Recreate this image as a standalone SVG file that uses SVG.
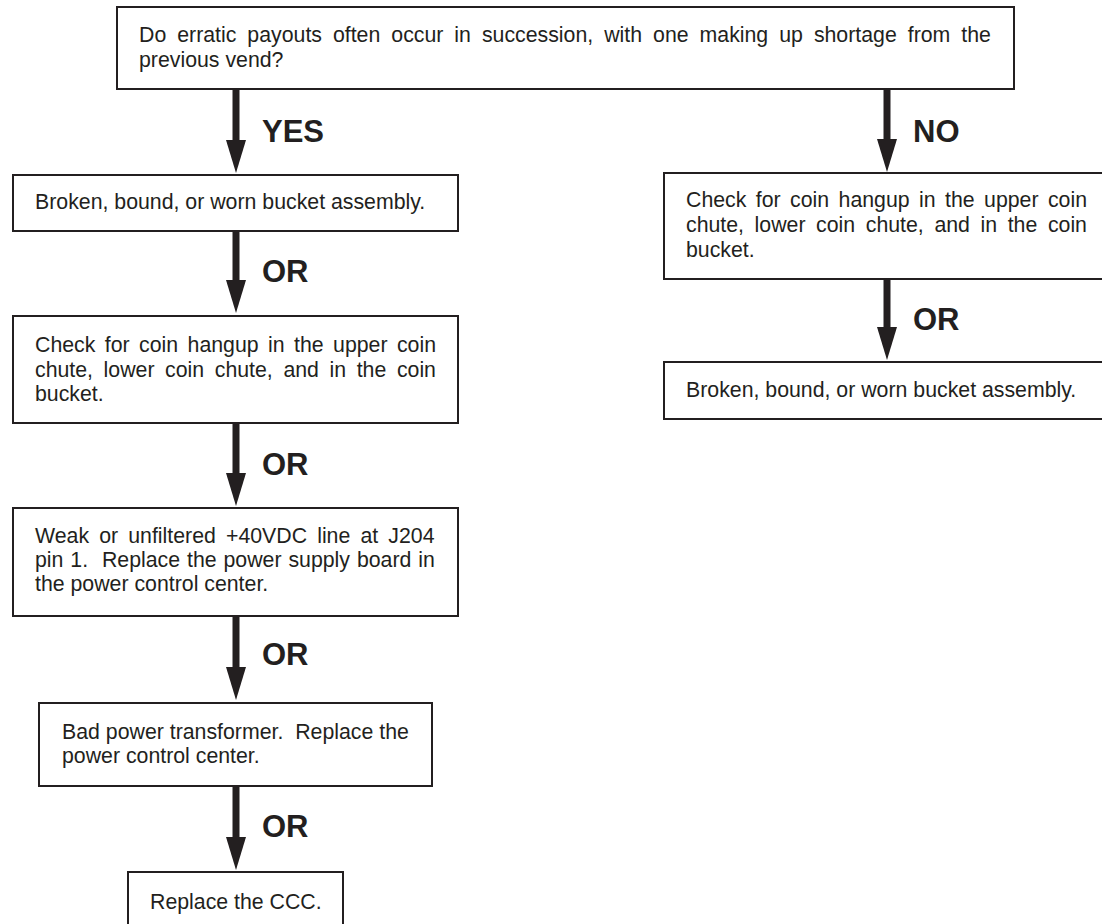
<svg xmlns="http://www.w3.org/2000/svg" width="1102" height="924" viewBox="0 0 1102 924">
<style>
.box{fill:#fff;stroke:#231f20;stroke-width:2}
.t{font-family:"Liberation Sans",Arial,sans-serif;font-size:21.3px;fill:#231f20}
.lbl{font-family:"Liberation Sans",Arial,sans-serif;font-size:31px;font-weight:bold;fill:#231f20}
.arr{stroke:#231f20;stroke-width:7;fill:none;marker-end:url(#head)}
</style>
<defs>
<marker id="head" viewBox="0 0 33 20" refX="0" refY="10" markerWidth="33" markerHeight="20" markerUnits="userSpaceOnUse" orient="auto">
<path d="M0,0 L33,10 L0,20 Z" fill="#231f20"/>
</marker>
</defs>
<rect width="1102" height="924" fill="#fff"/>
<g id="connectors">
<line class="arr" x1="236" y1="89" x2="236" y2="140"/>
<line class="arr" x1="887" y1="89" x2="887" y2="139"/>
<line class="arr" x1="236" y1="231" x2="236" y2="280"/>
<line class="arr" x1="236" y1="423" x2="236" y2="473"/>
<line class="arr" x1="236" y1="616" x2="236" y2="667"/>
<line class="arr" x1="236" y1="786" x2="236" y2="837"/>
<line class="arr" x1="887" y1="279" x2="887" y2="327"/>
<text class="lbl" x="262" y="142">YES</text>
<text class="lbl" x="913" y="142">NO</text>
<text class="lbl" x="262" y="282">OR</text>
<text class="lbl" x="262" y="475">OR</text>
<text class="lbl" x="262" y="665">OR</text>
<text class="lbl" x="262" y="837">OR</text>
<text class="lbl" x="913" y="330">OR</text>
</g>
<g id="q">
<rect class="box" x="117" y="7" width="897" height="82"/>
<text class="t" x="139" y="42" style="word-spacing:5.07px">Do erratic payouts often occur in succession, with one making up shortage from the</text>
<text class="t" x="139" y="67">previous vend?</text>
</g>
<g id="yes1">
<rect class="box" x="13" y="175" width="445" height="56"/>
<text class="t" x="35" y="209">Broken, bound, or worn bucket assembly.</text>
</g>
<g id="yes2">
<rect class="box" x="13" y="316" width="445" height="107"/>
<text class="t" x="35" y="352" style="word-spacing:3.5px">Check for coin hangup in the upper coin</text>
<text class="t" x="35" y="377" style="word-spacing:4.68px">chute, lower coin chute, and in the coin</text>
<text class="t" x="35" y="401">bucket.</text>
</g>
<g id="yes3">
<rect class="box" x="13" y="508" width="445" height="108"/>
<text class="t" x="35" y="543" style="word-spacing:4.2px">Weak or unfiltered +40VDC line at J204</text>
<text class="t" x="35" y="567" xml:space="preserve" style="word-spacing:1px">pin 1.  Replace the power supply board in</text>
<text class="t" x="35" y="591">the power control center.</text>
</g>
<g id="yes4">
<rect class="box" x="39" y="703" width="393" height="83"/>
<text class="t" x="62" y="739" xml:space="preserve">Bad power transformer.  Replace the</text>
<text class="t" x="62" y="763">power control center.</text>
</g>
<g id="yes5">
<rect class="box" x="128" y="872" width="215" height="60"/>
<text class="t" x="150" y="909">Replace the CCC.</text>
</g>
<g id="no1">
<rect class="box" x="664" y="173" width="445" height="106"/>
<text class="t" x="686" y="207" style="word-spacing:3.5px">Check for coin hangup in the upper coin</text>
<text class="t" x="686" y="232" style="word-spacing:4.68px">chute, lower coin chute, and in the coin</text>
<text class="t" x="686" y="257">bucket.</text>
</g>
<g id="no2">
<rect class="box" x="664" y="362" width="445" height="57"/>
<text class="t" x="686" y="397">Broken, bound, or worn bucket assembly.</text>
</g>
</svg>
